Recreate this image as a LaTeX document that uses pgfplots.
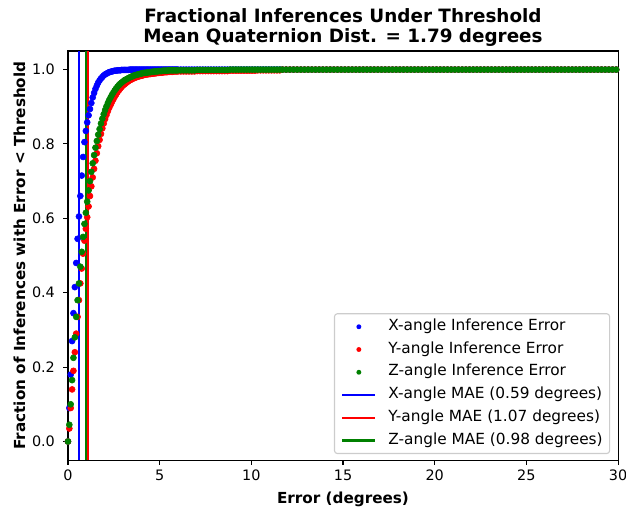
\documentclass[border=0pt]{standalone}
\usepackage{fontspec}
\setmainfont{DejaVu Sans}
\usepackage{pgfplots}
\pgfplotsset{compat=1.18}
\usepackage{pgfplotstable}

\definecolor{mplblue}{rgb}{0,0,1}
\definecolor{mplred}{rgb}{1,0,0}
\definecolor{mplgreen}{rgb}{0,0.5,0}

% fraction of inferences with error below threshold t (degrees)
\pgfplotstableread[row sep=\\]{
t X Y Z\\
0 0 0 0\\ 0.075 0.09 0.035 0.045\\ 0.15 0.18 0.09 0.10\\ 0.225 0.27 0.14 0.165\\
0.3 0.345 0.19 0.225\\ 0.375 0.415 0.24 0.28\\ 0.45 0.48 0.29 0.335\\ 0.525 0.545 0.335 0.38\\
0.6 0.605 0.38 0.425\\ 0.675 0.66 0.425 0.47\\ 0.75 0.715 0.465 0.51\\ 0.825 0.765 0.505 0.55\\
0.9 0.805 0.54 0.585\\ 0.975 0.835 0.572 0.615\\ 1.05 0.858 0.603 0.645\\ 1.125 0.877 0.632 0.675\\
1.2 0.894 0.66 0.70\\ 1.275 0.91 0.686 0.725\\ 1.35 0.925 0.71 0.748\\ 1.425 0.937 0.733 0.77\\
1.5 0.948 0.755 0.79\\ 1.575 0.957 0.775 0.808\\ 1.65 0.965 0.794 0.825\\ 1.725 0.971 0.811 0.84\\
1.8 0.976 0.827 0.855\\ 1.875 0.98 0.842 0.868\\ 1.95 0.984 0.855 0.88\\ 2.025 0.987 0.867 0.891\\
2.1 0.989 0.878 0.901\\ 2.175 0.991 0.888 0.91\\ 2.25 0.993 0.897 0.918\\ 2.325 0.994 0.905 0.925\\
2.4 0.995 0.913 0.932\\ 2.475 0.996 0.92 0.938\\ 2.55 0.997 0.927 0.944\\ 2.625 0.997 0.933 0.949\\
2.7 0.998 0.939 0.954\\ 2.775 0.998 0.944 0.958\\ 2.85 0.998 0.949 0.962\\ 2.925 0.999 0.953 0.965\\
3.0 0.999 0.957 0.968\\ 3.075 0.999 0.96 0.971\\ 3.15 0.999 0.963 0.973\\ 3.225 0.999 0.966 0.975\\
3.3 0.999 0.969 0.977\\ 3.375 1 0.971 0.979\\ 3.45 1 0.973 0.981\\ 3.525 1 0.975 0.982\\
3.6 1 0.977 0.984\\ 3.675 1 0.978 0.985\\ 3.75 1 0.98 0.986\\ 3.825 1 0.981 0.987\\
3.9 1 0.982 0.988\\ 3.975 1 0.983 0.989\\ 4.05 1 0.984 0.99\\ 4.125 1 0.985 0.991\\
4.2 1 0.986 0.991\\ 4.275 1 0.987 0.992\\ 4.35 1 0.987 0.992\\ 4.425 1 0.988 0.993\\
4.5 1 0.988 0.993\\ 4.575 1 0.989 0.994\\ 4.65 1 0.989 0.994\\ 4.725 1 0.99 0.995\\
4.8 1 0.99 0.995\\ 4.875 1 0.991 0.995\\ 4.95 1 0.991 0.996\\ 5.025 1 0.992 0.996\\
5.1 1 0.992 0.996\\ 5.175 1 0.992 0.997\\ 5.25 1 0.993 0.997\\ 5.325 1 0.993 0.997\\
5.4 1 0.993 0.997\\ 5.475 1 0.994 0.998\\ 5.55 1 0.994 0.998\\ 5.625 1 0.994 0.998\\
5.7 1 0.994 0.998\\ 5.775 1 0.995 0.998\\ 5.85 1 0.995 0.998\\ 5.925 1 0.995 0.998\\
6.0 1 0.995 0.998\\ 6.15 1 0.995 0.998\\ 6.3 1 0.995 0.998\\ 6.45 1 0.995 0.998\\
6.6 1 0.995 0.998\\ 6.75 1 0.995 0.998\\ 6.9 1 0.995 0.998\\ 7.05 1 0.996 0.999\\
7.2 1 0.996 0.999\\ 7.35 1 0.996 0.999\\ 7.5 1 0.996 0.999\\ 7.65 1 0.996 0.999\\
7.8 1 0.996 0.999\\ 7.95 1 0.996 0.999\\ 8.1 1 0.996 0.999\\ 8.25 1 0.996 0.999\\
8.4 1 0.996 0.999\\ 8.55 1 0.996 0.999\\ 8.7 1 0.996 0.999\\ 8.85 1 0.997 1\\
9.0 1 0.997 1\\ 9.15 1 0.997 1\\ 9.3 1 0.997 1\\ 9.45 1 0.997 1\\ 9.6 1 0.997 1\\
9.75 1 0.997 1\\ 9.9 1 0.997 1\\ 10.05 1 0.997 1\\ 10.2 1 0.997 1\\ 10.35 1 0.998 1\\
10.5 1 0.998 1\\ 10.65 1 0.998 1\\ 10.8 1 0.998 1\\ 10.95 1 0.998 1\\ 11.1 1 0.998 1\\
11.25 1 0.998 1\\ 11.4 1 0.998 1\\ 11.55 1 0.998 1\\ 11.7 1 1 1\\ 11.9 1 1 1\\
12.1 1 1 1\\ 12.3 1 1 1\\ 12.5 1 1 1\\ 12.7 1 1 1\\ 12.9 1 1 1\\ 13.1 1 1 1\\
13.3 1 1 1\\ 13.5 1 1 1\\ 13.7 1 1 1\\ 13.9 1 1 1\\ 14.1 1 1 1\\ 14.3 1 1 1\\
14.5 1 1 1\\ 14.7 1 1 1\\ 14.9 1 1 1\\ 15.1 1 1 1\\ 15.3 1 1 1\\ 15.5 1 1 1\\
15.7 1 1 1\\ 15.9 1 1 1\\ 16.1 1 1 1\\ 16.3 1 1 1\\ 16.5 1 1 1\\ 16.7 1 1 1\\
16.9 1 1 1\\ 17.1 1 1 1\\ 17.3 1 1 1\\ 17.5 1 1 1\\ 17.7 1 1 1\\ 17.9 1 1 1\\
18.1 1 1 1\\ 18.3 1 1 1\\ 18.5 1 1 1\\ 18.7 1 1 1\\ 18.9 1 1 1\\ 19.1 1 1 1\\
19.3 1 1 1\\ 19.5 1 1 1\\ 19.7 1 1 1\\ 19.9 1 1 1\\ 20.1 1 1 1\\ 20.3 1 1 1\\
20.5 1 1 1\\ 20.7 1 1 1\\ 20.9 1 1 1\\ 21.1 1 1 1\\ 21.3 1 1 1\\ 21.5 1 1 1\\
21.7 1 1 1\\ 21.9 1 1 1\\ 22.1 1 1 1\\ 22.3 1 1 1\\ 22.5 1 1 1\\ 22.7 1 1 1\\
22.9 1 1 1\\ 23.1 1 1 1\\ 23.3 1 1 1\\ 23.5 1 1 1\\ 23.7 1 1 1\\ 23.9 1 1 1\\
24.1 1 1 1\\ 24.3 1 1 1\\ 24.5 1 1 1\\ 24.7 1 1 1\\ 24.9 1 1 1\\ 25.1 1 1 1\\
25.3 1 1 1\\ 25.5 1 1 1\\ 25.7 1 1 1\\ 25.9 1 1 1\\ 26.1 1 1 1\\ 26.3 1 1 1\\
26.5 1 1 1\\ 26.7 1 1 1\\ 26.9 1 1 1\\ 27.1 1 1 1\\ 27.3 1 1 1\\ 27.5 1 1 1\\
27.7 1 1 1\\ 27.9 1 1 1\\ 28.1 1 1 1\\ 28.3 1 1 1\\ 28.5 1 1 1\\ 28.7 1 1 1\\
28.9 1 1 1\\ 29.1 1 1 1\\ 29.3 1 1 1\\ 29.5 1 1 1\\ 29.7 1 1 1\\ 29.9 1 1 1\\
}\cdfdata

\begin{document}
\begin{tikzpicture}
\begin{axis}[
    at={(0,0)}, anchor=south west,
    scale only axis, width=401.5pt, height=298.6pt,
    xmin=0, xmax=30, ymin=-0.05, ymax=1.05,
    xtick={0,5,10,15,20,25,30},
    ytick={0,0.2,0.4,0.6,0.8,1.0},
    yticklabel style={xshift=-2.5pt, /pgf/number format/.cd, fixed, fixed zerofill, precision=1},
    /pgf/number format/assume math mode=true,
    tick align=outside, tick pos=left,
    major tick length=3.5pt,
    every tick/.style={black, line width=0.8pt},
    axis line style={line width=0.8pt},
    ticklabel style={font=\fontsize{10.5}{12}\selectfont},
    xlabel={Error (degrees)},
    ylabel={Fraction of Inferences with Error < Threshold},
    label style={font=\bfseries\fontsize{11.1}{13}\selectfont},
    xlabel style={at={(axis description cs:0.5,0)}, anchor=base, yshift=-31.6pt},
    ylabel style={yshift=-2pt},
    title={Fractional Inferences Under Threshold\\Mean Quaternion Dist. = 1.79 degrees},
    title style={font=\bfseries\fontsize{13.4}{14.2}\selectfont, align=center,
        at={(axis description cs:0.5,1)}, anchor=south, inner sep=0pt, yshift=-2.7pt},
    legend cell align=left,
    legend style={at={(axis description cs:1,0)}, anchor=south east,
        xshift=-5.8pt, yshift=4.4pt,
        draw=black!20, line width=0.8pt, rounded corners=2pt, fill=white,
        font=\fontsize{11.2}{13}\selectfont,
        inner xsep=5pt, inner ysep=4.2pt,
        row sep=6pt, column sep=8.8pt,
        nodes={inner sep=0pt, text height=8pt, text depth=2.6pt}},
    dotleg/.style={legend image code/.code={%
        \path[draw=none] (0pt,0pt) -- (24pt,0pt);
        \fill[#1, draw=none] (12pt,0pt) circle (1.8pt);}},
    lineleg/.style={legend image code/.code={%
        \draw[#1, line width=1.5pt] (0pt,0pt) -- (24pt,0pt);}},
]
\addplot[only marks, mark=*, mark size=2.2pt, color=mplblue, dotleg=mplblue] table[x=t, y=X]{\cdfdata};
\addlegendentry{X-angle Inference Error}
\addplot[only marks, mark=*, mark size=2.2pt, color=mplred, dotleg=mplred] table[x=t, y=Y]{\cdfdata};
\addlegendentry{Y-angle Inference Error}
\addplot[only marks, mark=*, mark size=2.2pt, color=mplgreen, dotleg=mplgreen] table[x=t, y=Z]{\cdfdata};
\addlegendentry{Z-angle Inference Error}
\addplot[mplblue, line width=1.5pt, lineleg=mplblue] coordinates {(0.59,-0.05) (0.59,1.05)};
\addlegendentry{X-angle MAE (0.59 degrees)}
\addplot[mplred, line width=1.5pt, lineleg=mplred] coordinates {(1.07,-0.05) (1.07,1.05)};
\addlegendentry{Y-angle MAE (1.07 degrees)}
\addplot[mplgreen, line width=1.5pt, lineleg=mplgreen] coordinates {(0.98,-0.05) (0.98,1.05)};
\addlegendentry{Z-angle MAE (0.98 degrees)}
\end{axis}
\pgfresetboundingbox
\path[use as bounding box] (-49.6pt,-37.2pt) rectangle (407.3pt,335.8pt);
\end{tikzpicture}
\end{document}
